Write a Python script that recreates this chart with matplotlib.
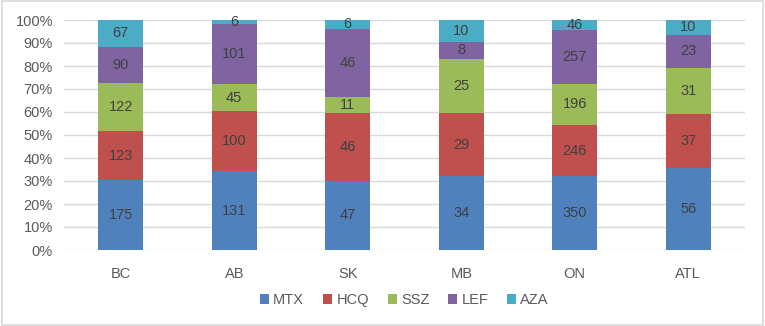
import numpy as np
import matplotlib
matplotlib.use("Agg")
import matplotlib.pyplot as plt
from matplotlib.patches import Rectangle

plt.rcParams['font.family'] = ['Liberation Sans', 'DejaVu Sans']

# data
regions = ["BC", "AB", "SK", "MB", "ON", "ATL"]
series = ["MTX", "HCQ", "SSZ", "LEF", "AZA"]
mtx = [175, 131, 47, 34, 350, 56]
hcq = [123, 100, 46, 29, 246, 37]
ssz = [122, 45, 11, 25, 196, 31]
lef = [90, 101, 46, 8, 257, 23]
aza = [67, 6, 6, 10, 46, 10]

colors = ["#4F81BD", "#C0504D", "#9BBB59", "#8064A2", "#4BACC6"]

counts = np.array([mtx, hcq, ssz, lef, aza], dtype=float)
share = counts / counts.sum(axis=0) * 100

fig = plt.figure(figsize=(7.65, 3.26), dpi=100)
ax = fig.add_axes([64/765, 1-250/326, (745-64)/765, 230/326])

x = np.arange(len(regions))
bottom = np.zeros(len(regions))
for i, name in enumerate(series):
    bars = ax.bar(x, share[i], 0.4, bottom=bottom, color=colors[i], label=name, zorder=3)
    for j, b in enumerate(bars):
        ax.text(b.get_x() + b.get_width()/2, bottom[j] + share[i][j]/2, str(int(counts[i][j])),
                ha="center", va="center", fontsize=10.5, color="#404040", zorder=4)
    bottom += share[i]

ax.set_xlim(-0.5, len(regions) - 0.5)
ax.set_ylim(0, 100)
ax.set_yticks(np.arange(0, 101, 10))
ax.set_yticklabels([f"{v}%" for v in range(0, 101, 10)])
ax.set_xticks(x)
ax.set_xticklabels(regions)
ax.yaxis.grid(True, color="#D9D9D9", linewidth=1, zorder=0)
for s in ax.spines.values():
    s.set_visible(False)
ax.tick_params(axis="both", length=0, labelsize=10.5, labelcolor="#595959")
ax.tick_params(axis="x", pad=12)
ax.tick_params(axis="y", pad=8)

leg = ax.legend(loc="center", bbox_to_anchor=(0.5, -0.218), ncol=5, frameon=False,
                fontsize=10.5, handlelength=0.6, handleheight=0.6, handletextpad=0.3,
                columnspacing=1.3)
for t in leg.get_texts():
    t.set_color("#595959")

fig.patches.append(Rectangle((0.002, 0.003), 0.996, 0.994, transform=fig.transFigure,
                             fill=False, edgecolor="#D9D9D9", linewidth=1.2))

fig.savefig("out.png", dpi=100)
